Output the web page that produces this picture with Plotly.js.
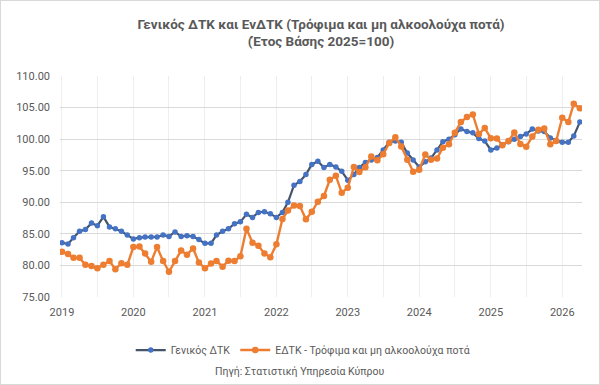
<!DOCTYPE html>
<html>
<head>
<meta charset="utf-8">
<script src="https://cdn.plot.ly/plotly-3.0.1.min.js"></script>
<style>
  html, body { margin: 0; padding: 0; background: #ffffff; }
  #wrap { position: relative; width: 600px; height: 385px; }
  #chart { width: 600px; height: 385px; }
  #frame { position: absolute; left: 0; top: 0; width: 600px; height: 385px;
           box-sizing: border-box; border: 1px solid #d9d9d9; pointer-events: none; }
</style>
</head>
<body>
<div id="wrap">
  <div id="chart"></div>
  <div id="frame"></div>
</div>
<script>
// Monthly series, starting January 2019 (index base 2025 = 100)
const startYear = 2019;
const startMonth = 1;

// Γενικός ΔΤΚ
const generalCPI = [
  83.6, 83.4, 84.4, 85.4, 85.7, 86.7, 86.3, 87.7, 86.1, 85.8, 85.4, 84.8,
  84.2, 84.4, 84.5, 84.5, 84.5, 84.8, 84.6, 85.3, 84.6, 84.7, 84.6, 84.1,
  83.5, 83.5, 84.8, 85.4, 85.8, 86.6, 86.9, 88.1, 87.6, 88.4, 88.5, 88.2,
  87.6, 88.4, 90.0, 92.7, 93.3, 94.4, 96.0, 96.5, 95.5, 96.0, 95.6, 94.9,
  93.5, 94.4, 95.5, 96.3, 96.7, 97.1, 98.3, 99.5, 99.7, 99.5, 97.8, 96.7,
  95.6, 96.4, 97.0, 98.3, 99.6, 100.0, 100.7, 101.6, 101.2, 101.0, 100.1, 99.7,
  98.3, 98.6, 99.1, 99.6, 100.0, 100.4, 100.8, 101.6, 101.3, 101.2, 100.2, 99.8,
  99.5, 99.5, 100.5, 102.7
];

// ΕΔΤΚ - Τρόφιμα και μη αλκοολούχα ποτά
const foodCPI = [
  82.15, 81.8, 81.2, 81.2, 80.1, 79.9, 79.55, 80.1, 80.7, 79.4, 80.35, 80.1,
  82.9, 83.0, 81.9, 80.6, 82.9, 80.7, 79.0, 80.7, 82.35, 81.7, 82.7, 80.45,
  79.55, 80.3, 80.7, 79.8, 80.75, 80.7, 81.45, 85.8, 83.6, 83.1, 81.9, 81.3,
  83.35, 87.35, 88.7, 89.5, 89.4, 87.3, 88.5, 90.1, 91.0, 93.55, 94.2, 91.5,
  92.3, 95.6, 94.8, 95.55, 97.25, 96.65, 97.6, 99.4, 100.3, 98.85, 96.75, 94.85,
  95.15, 97.55, 96.75, 96.95, 98.65, 99.2, 101.0, 102.7, 103.5, 103.9, 100.8, 101.75,
  100.15, 100.1, 99.05, 99.7, 101.05, 99.25, 98.8, 100.4, 101.5, 101.7, 99.2, 99.7,
  103.4, 102.7, 105.6, 104.9
];

const seriesNames = ['Γενικός ΔΤΚ', 'ΕΔΤΚ - Τρόφιμα και μη αλκοολούχα ποτά'];
const titleLines = ['Γενικός ΔΤΚ και ΕνΔΤΚ (Τρόφιμα και μη αλκοολούχα ποτά)', '(Έτος Βάσης 2025=100)'];
const sourceNote = 'Πηγή: Στατιστική Υπηρεσία Κύπρου';

function monthDate(i) {
  const total = (startMonth - 1) + i;
  const y = startYear + Math.floor(total / 12);
  const m = (total % 12) + 1;
  return y + '-' + String(m).padStart(2, '0') + '-01';
}
const dates = generalCPI.map((_, i) => monthDate(i));

const grey = '#595959';
const fontFamily = 'Roboto, "Liberation Sans", sans-serif';

const traces = [
  {
    x: dates, y: generalCPI, name: seriesNames[0],
    type: 'scatter', mode: 'lines+markers',
    line: { color: '#44546A', width: 2.2 },
    marker: { color: '#4472C4', size: 5.5 }
  },
  {
    x: dates, y: foodCPI, name: seriesNames[1],
    type: 'scatter', mode: 'lines+markers',
    line: { color: '#ED7D31', width: 2.4 },
    marker: { color: '#ED7D31', size: 6.5 }
  }
];

const layout = {
  width: 600, height: 385,
  margin: { l: 60, r: 18, t: 76, b: 88 },
  paper_bgcolor: '#ffffff', plot_bgcolor: '#ffffff',
  font: { family: fontFamily, color: grey, size: 11 },
  title: {
    text: titleLines.join('<br>'),
    font: { family: fontFamily, size: 13.5, color: grey, weight: 'bold' },
    x: 0.5, xanchor: 'center', xref: 'paper',
    y: 0.925, yanchor: 'middle', yref: 'container'
  },
  showlegend: true,
  legend: {
    orientation: 'h', x: 0.465, xanchor: 'center', y: -0.24, yanchor: 'middle',
    font: { family: fontFamily, size: 10.5, color: grey },
    itemwidth: 30, tracegroupgap: 0
  },
  xaxis: {
    type: 'date',
    range: ['2018-12-22', '2026-04-12'],
    dtick: 'M12', tick0: '2019-01-01', tickformat: '%Y',
    ticks: '', showgrid: true, gridcolor: '#eeeeee', gridwidth: 1,
    minor: { dtick: 'M6', tick0: '2019-01-01', showgrid: true, gridcolor: '#eeeeee', gridwidth: 1 },
    showline: false, zeroline: false,
    tickfont: { family: fontFamily, size: 11, color: grey },
    ticklabelstandoff: 7
  },
  yaxis: {
    range: [75, 110], dtick: 5, tick0: 75, tickformat: '.2f',
    ticks: '', showgrid: true, gridcolor: '#d9d9d9', gridwidth: 1,
    showline: false, zeroline: false,
    tickfont: { family: fontFamily, size: 11, color: grey },
    ticklabelstandoff: 9
  },
  annotations: [
    {
      text: sourceNote, xref: 'paper', yref: 'paper',
      x: 0.458, y: -0.339, xanchor: 'center', yanchor: 'middle',
      showarrow: false, font: { family: fontFamily, size: 10.5, color: grey }
    }
  ]
};

Plotly.newPlot('chart', traces, layout, { displayModeBar: false, staticPlot: true });
</script>
</body>
</html>
